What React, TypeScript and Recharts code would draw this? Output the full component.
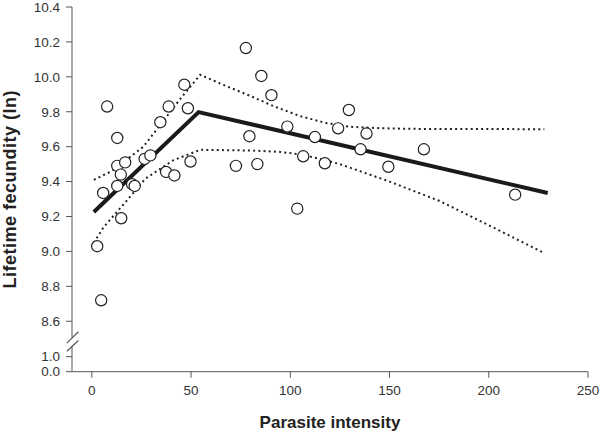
import React from 'react';
import { ComposedChart, Scatter, XAxis, YAxis, ReferenceLine } from 'recharts';

// Observed data: parasite intensity vs ln lifetime fecundity
const intensity = [
  2.7, 4.7, 14.8, 7.7, 12.8, 46.6, 38.7, 48.4, 34.5, 12.8, 16.8, 14.6, 5.7,
  12.8, 20.3, 21.6, 26.6, 29.5, 37.4, 41.6, 49.7, 77.6, 85.4, 90.5, 79.4,
  72.6, 83.4, 98.5, 112.4, 106.5, 117.4, 103.5, 124.1, 129.5, 138.4, 135.4,
  149.4, 167.3, 213.3,
];
const fecundity = [
  9.03, 8.72, 9.19, 9.83, 9.65, 9.955, 9.83, 9.82, 9.74, 9.49, 9.51, 9.44, 9.335,
  9.375, 9.385, 9.375, 9.53, 9.55, 9.455, 9.435, 9.515, 10.165, 10.005, 9.895, 9.66,
  9.49, 9.5, 9.715, 9.655, 9.545, 9.505, 9.245, 9.705, 9.81, 9.675, 9.585,
  9.485, 9.585, 9.325,
];

// Piecewise fit
const fitX = [1, 53.8, 229.7];
const fitY = [9.226, 9.798, 9.335];

// Upper confidence band
const upperX = [1, 10, 26, 45, 54.6, 65, 80, 92, 105, 118, 130, 145, 160, 228];
const upperY = [9.41, 9.46, 9.6, 9.88, 10.012, 9.96, 9.89, 9.83, 9.775, 9.735, 9.714, 9.706, 9.702, 9.7];

// Lower confidence band
const lowerX = [1, 6, 17, 27, 41, 54.6, 80, 95, 105, 115, 125, 150, 175, 200, 228];
const lowerY = [9.05, 9.14, 9.283, 9.417, 9.522, 9.582, 9.578, 9.57, 9.555, 9.53, 9.5, 9.4, 9.29, 9.15, 8.99];

const xTicks = [0, 50, 100, 150, 200, 250];
const yTickValues = [0, 1, 8.6, 8.8, 9.0, 9.2, 9.4, 9.6, 9.8, 10.0, 10.2, 10.4];

// Broken axis: values below the break are compressed onto the bottom of the axis
const BREAK_BASE = 8.311;
const LOW_SCALE = 0.086;
const toAxis = (v: number) => (v >= 8.5 ? v : BREAK_BASE + v * LOW_SCALE);

const points = intensity.map((x, i) => ({ x, y: fecundity[i] }));
const fit = fitX.map((x, i) => ({ x, y: fitY[i] }));
const upper = upperX.map((x, i) => ({ x, y: upperY[i] }));
const lower = lowerX.map((x, i) => ({ x, y: lowerY[i] }));
const yTicks = yTickValues.map(toAxis);
const yLabelFor = (t: number) => {
  let best = 0;
  yTicks.forEach((v, i) => {
    if (Math.abs(v - t) < Math.abs(yTicks[best] - t)) best = i;
  });
  return yTickValues[best].toFixed(1);
};

const FONT = '"Liberation Sans", Arial, Helvetica, sans-serif';
const AXIS = '#555';
const TEXT = '#333';

const Nothing = () => <g />;

const Circle = (props: any) => {
  const { cx, cy } = props;
  if (cx == null || cy == null) return <g />;
  return <circle cx={cx} cy={cy} r={5.6} fill="#fff" stroke="#222" strokeWidth={1.2} />;
};

const YTitle = (props: any) => {
  const vb = props.viewBox || {};
  const cy = (vb.y ?? 7) + (vb.height ?? 364) / 2;
  const cx = 10;
  return (
    <text
      x={cx}
      y={cy}
      transform={`rotate(-90, ${cx}, ${cy})`}
      textAnchor="middle"
      dominantBaseline="central"
      style={{ fontFamily: FONT, fontWeight: 700, fontSize: 18, letterSpacing: 0.5, fill: '#222' }}
    >
      Lifetime fecundity (ln)
    </text>
  );
};

const XTitle = (props: any) => {
  const vb = props.viewBox || {};
  const cx = (vb.x ?? 72) + (vb.width ?? 516) / 2;
  return (
    <text
      x={cx}
      y={428}
      textAnchor="middle"
      style={{ fontFamily: FONT, fontWeight: 700, fontSize: 17, fill: '#222' }}
    >
      Parasite intensity
    </text>
  );
};

export default function App() {
  return (
    <div style={{ position: 'absolute', left: 0, top: 0 }}>
      <ComposedChart
        width={600}
        height={435}
        margin={{ top: 7, right: 12, bottom: 0, left: 0 }}
        style={{ fontFamily: FONT }}
      >
        <XAxis
          type="number"
          dataKey="x"
          domain={[-10, 250]}
          ticks={xTicks}
          allowDataOverflow
          height={63.3}
          tickSize={6}
          tickMargin={8}
          stroke={AXIS}
          tick={{ fill: TEXT, fontSize: 13.5, fontFamily: FONT }}
          label={{ content: XTitle }}
        />
        <YAxis
          type="number"
          dataKey="y"
          domain={[BREAK_BASE, 10.4]}
          ticks={yTicks}
          allowDataOverflow
          width={72}
          tickSize={6}
          tickMargin={6}
          axisLine={false}
          stroke={AXIS}
          tick={{ fill: TEXT, fontSize: 13.5, fontFamily: FONT }}
          tickFormatter={yLabelFor}
          interval={0}
          label={{ content: YTitle }}
        />
        {/* broken y-axis line */}
        <ReferenceLine
          segment={[{ x: -10, y: 10.4 }, { x: -10, y: 8.508 }]}
          stroke={AXIS}
          strokeWidth={1}
          ifOverflow="visible"
        />
        <ReferenceLine
          segment={[{ x: -10, y: 8.456 }, { x: -10, y: BREAK_BASE }]}
          stroke={AXIS}
          strokeWidth={1}
          ifOverflow="visible"
        />
        <ReferenceLine
          segment={[{ x: -12.6, y: 8.475 }, { x: -6.8, y: 8.54 }]}
          stroke={AXIS}
          strokeWidth={1.2}
          ifOverflow="visible"
        />
        <ReferenceLine
          segment={[{ x: -12.6, y: 8.428 }, { x: -6.8, y: 8.49 }]}
          stroke={AXIS}
          strokeWidth={1.2}
          ifOverflow="visible"
        />
        <Scatter
          data={upper}
          line={{ stroke: '#222', strokeWidth: 2, strokeDasharray: '2 3.2' }}
          lineType="joint"
          shape={Nothing}
          isAnimationActive={false}
          legendType="none"
        />
        <Scatter
          data={lower}
          line={{ stroke: '#222', strokeWidth: 2, strokeDasharray: '2 3.2' }}
          lineType="joint"
          shape={Nothing}
          isAnimationActive={false}
          legendType="none"
        />
        <Scatter
          data={fit}
          line={{ stroke: '#1a1a1a', strokeWidth: 4 }}
          lineType="joint"
          shape={Nothing}
          isAnimationActive={false}
          legendType="none"
        />
        <Scatter data={points} shape={Circle} isAnimationActive={false} legendType="none" />
      </ComposedChart>
    </div>
  );
}
